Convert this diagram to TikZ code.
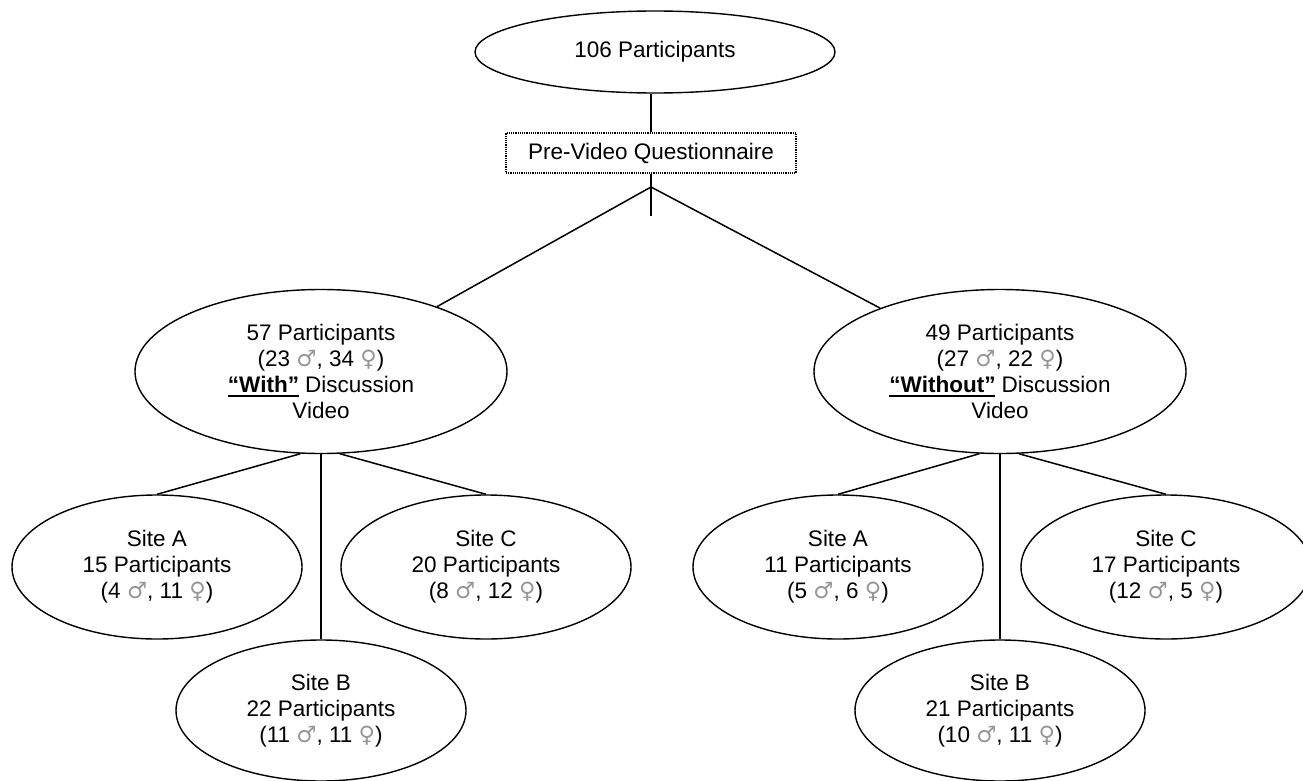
\documentclass[tikz,border=0pt]{standalone}
\usepackage{fontspec}
\setmainfont{Liberation Sans}
\newfontfamily\symfont{DejaVu Sans}
\usetikzlibrary{shapes.geometric}
\definecolor{symgray}{RGB}{150,150,150}
\newcommand\mymale{{\symfont\color{symgray}♂}}
\newcommand\myfemale{{\symfont\color{symgray}♀}}
\newcommand\thickul[1]{\setbox0\hbox{#1}\rlap{\rule[-4.5pt]{\wd0}{2.4pt}}\box0{}}
\begin{document}
\begin{tikzpicture}[x=1pt,y=-1pt,
  every node/.style={font=\fontsize{22.5}{26}\selectfont},
  oval/.style={draw, ellipse, line width=1.4pt, inner sep=0pt, align=center},
  big/.style={oval, minimum width=372pt, minimum height=164pt},
  site/.style={oval, minimum width=290pt, minimum height=144pt},
  link/.style={line width=1.5pt}]
\useasboundingbox (0,0) rectangle (1303,781);
% top
\node[oval, minimum width=360pt, minimum height=82pt] (top) at (655,52) {106 Participants};
\node[draw, dash pattern=on 1.2pt off 1pt, line width=1.6pt, minimum width=290pt, minimum height=40pt, inner sep=0pt] (pre) at (651,153) {Pre-Video Questionnaire};
\coordinate (j) at (651,187);
\coordinate (stub) at (651,216);
% second level
\node[big] (with) at (321,371.5) {57 Participants\\(23 \mymale, 34 \myfemale)\\\thickul{\textbf{“With”}} Discussion\\Video};
\node[big] (without) at (1000,371.5) {49 Participants\\(27 \mymale, 22 \myfemale)\\\thickul{\textbf{“Without”}} Discussion\\Video};
% sites left
\node[site] (lA) at (157,567) {Site A\\15 Participants\\(4 \mymale, 11 \myfemale)};
\node[site] (lC) at (486,567) {Site C\\20 Participants\\(8 \mymale, 12 \myfemale)};
\node[site, minimum height=141pt] (lB) at (321,710.5) {Site B\\22 Participants\\(11 \mymale, 11 \myfemale)};
% sites right
\node[site] (rA) at (838,567) {Site A\\11 Participants\\(5 \mymale, 6 \myfemale)};
\node[site] (rC) at (1166,567) {Site C\\17 Participants\\(12 \mymale, 5 \myfemale)};
\node[site, minimum height=141pt] (rB) at (1000,710.5) {Site B\\21 Participants\\(10 \mymale, 11 \myfemale)};
% connectors
\draw[link] (pre.north) -- (pre.north |- top.south);
\draw[link] (pre.south) -- (stub);
\draw[link] (with) -- (j) -- (without);
\draw[link] (with.-104) -- (lA.north);
\draw[link] (with.-77) -- (lC.north);
\draw[link] (with.south) -- (lB.north);
\draw[link] (without.-104) -- (rA.north);
\draw[link] (without.-77) -- (rC.north);
\draw[link] (without.south) -- (rB.north);
\end{tikzpicture}
\end{document}
